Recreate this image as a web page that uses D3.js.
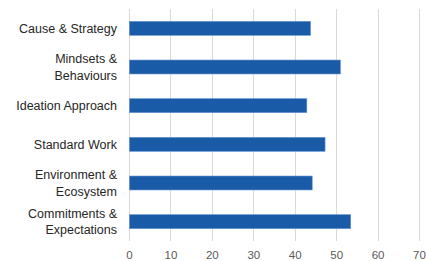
<!DOCTYPE html>
<html>
<head>
<meta charset="utf-8">
<script src="https://cdn.jsdelivr.net/npm/d3@7"></script>
<style>
  body { margin: 0; background: #fff; }
  svg { display: block; font-family: "Liberation Sans", Arial, sans-serif; }
</style>
</head>
<body>
<div class="container"></div>
<script>
const categories = [
  ["Cause & Strategy"],
  ["Mindsets &", "Behaviours"],
  ["Ideation Approach"],
  ["Standard Work"],
  ["Environment &", "Ecosystem"],
  ["Commitments &", "Expectations"]
];
const values = [43.7, 50.9, 42.8, 47.2, 44.1, 53.4];
const ticks = [0, 10, 20, 30, 40, 50, 60, 70];

const w = 426;
const h = 261;
const plotLeft = 129;
const plotRight = 419;
const plotTop = 9;
const plotBottom = 241;

const data = categories.map((c, i) => ({ label: c, value: values[i], key: i }));

const xScale = d3.scaleLinear().domain([0, 70]).range([plotLeft, plotRight]);
const yScale = d3.scaleBand()
  .domain(data.map(d => d.key))
  .range([plotTop, plotBottom])
  .paddingInner(0.64)
  .paddingOuter(0.32);

const svg = d3.select(".container")
  .append("svg")
  .attr("width", w)
  .attr("height", h);

// gridlines
svg.append("g")
  .selectAll("line")
  .data(ticks)
  .enter()
  .append("line")
  .attr("x1", d => Math.round(xScale(d)) + 0.5)
  .attr("x2", d => Math.round(xScale(d)) + 0.5)
  .attr("y1", plotTop)
  .attr("y2", plotBottom)
  .attr("stroke", "#d9d9d9")
  .attr("stroke-width", 1);

// bars
svg.append("g")
  .selectAll("rect")
  .data(data)
  .enter()
  .append("rect")
  .attr("x", xScale(0) + 0.5)
  .attr("y", d => yScale(d.key))
  .attr("width", d => xScale(d.value) - xScale(0))
  .attr("height", yScale.bandwidth())
  .attr("fill", "#1a5ba8")
  .attr("stroke", "#5b8fd0")
  .attr("stroke-width", 0.6);

// x tick labels
const xAxis = d3.axisBottom(xScale).tickValues(ticks).tickSize(0).tickPadding(0);
svg.append("g")
  .attr("transform", "translate(0," + (plotBottom + 14) + ")")
  .call(xAxis)
  .call(g => g.select(".domain").remove())
  .call(g => g.selectAll("text")
    .attr("fill", "#595959")
    .attr("font-size", 11.5)
    .attr("dy", "0.35em")
    .attr("font-family", "Liberation Sans, Arial, sans-serif"));

// category labels
const labels = svg.append("g")
  .selectAll("text")
  .data(data)
  .enter()
  .append("text")
  .attr("text-anchor", "end")
  .attr("fill", "#262626")
  .attr("font-size", 12.5)
  .attr("x", 117)
  .attr("y", d => yScale(d.key) + yScale.bandwidth() / 2);

labels.selectAll("tspan")
  .data(d => d.label.map((t, i) => ({ t, i, n: d.label.length })))
  .enter()
  .append("tspan")
  .attr("x", 117)
  .attr("dy", d => d.i === 0 ? ((0.35 - (d.n - 1) * 0.66) + "em") : "1.32em")
  .text(d => d.t);
</script>
</body>
</html>
